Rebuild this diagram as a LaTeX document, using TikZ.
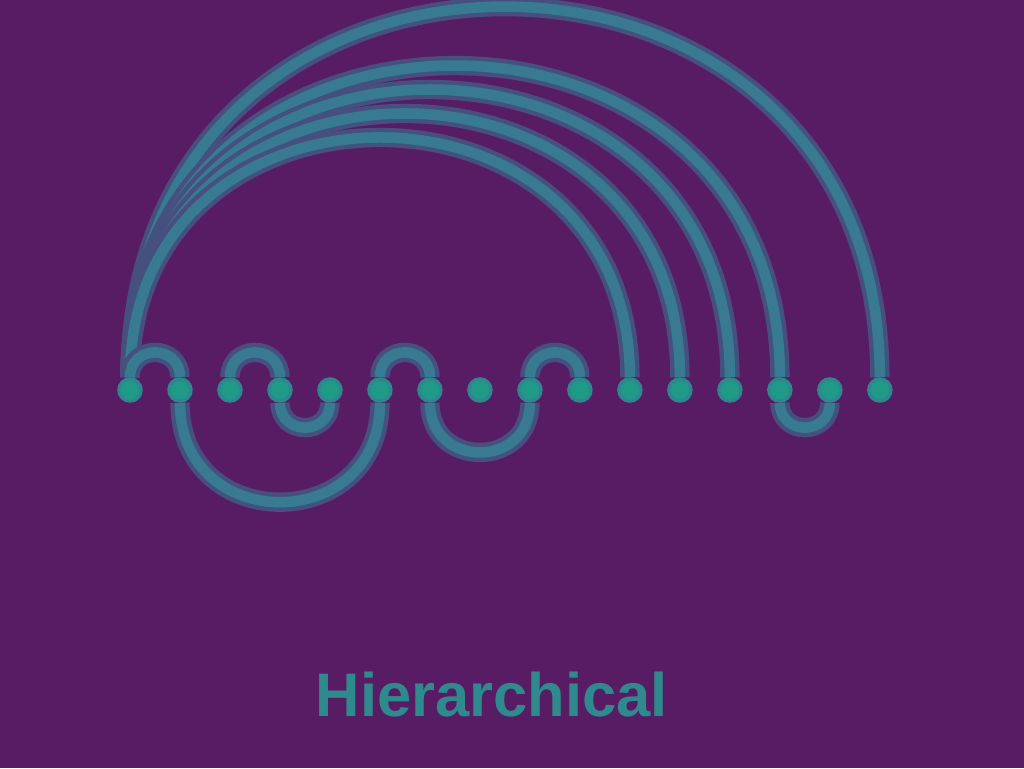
\documentclass[tikz,border=0pt]{standalone}
\usepackage{fontspec}
\setmainfont{Liberation Sans}
\usepackage{tikz}
\usetikzlibrary{positioning}

\definecolor{bgcol}{HTML}{581C65}
\definecolor{edgecol}{HTML}{387A92}
\definecolor{nodecol}{HTML}{1F9A86}
\definecolor{textcol}{HTML}{2E8A8C}

\begin{document}
\begin{tikzpicture}[
    x=0.02cm, y=-0.02cm,
    node distance=1cm, on grid,
    dot/.style={circle, fill=nodecol, draw=edgecol!60!nodecol, line width=2pt, minimum size=0.44cm, inner sep=0pt},
    link/.style={draw=edgecol, line width=6pt, preaction={draw=edgecol!55!bgcol, line width=11pt}},
    over/.style={out=90, in=90, looseness=1.64},
    under/.style={out=-90, in=-90, looseness=1.7}
]
    % Background
    \useasboundingbox (0,0) rectangle (1024,768);
    \fill[bgcol] (0,0) rectangle (1024,768);

    % Nodes
    \node[dot] (n0) at (130,390) {};
    \node[dot, right=of n0] (n1) {};
    \node[dot, right=of n1] (n2) {};
    \node[dot, right=of n2] (n3) {};
    \node[dot, right=of n3] (n4) {};
    \node[dot, right=of n4] (n5) {};
    \node[dot, right=of n5] (n6) {};
    \node[dot, right=of n6] (n7) {};
    \node[dot, right=of n7] (n8) {};
    \node[dot, right=of n8] (n9) {};
    \node[dot, right=of n9] (n10) {};
    \node[dot, right=of n10] (n11) {};
    \node[dot, right=of n11] (n12) {};
    \node[dot, right=of n12] (n13) {};
    \node[dot, right=of n13] (n14) {};
    \node[dot, right=of n14] (n15) {};

    % Arcs above
    \draw[link] (n0) to[over, looseness=1.69] (n15);
    \draw[link] (n0) to[over] (n13);
    \draw[link] (n0) to[over] (n12);
    \draw[link] (n0) to[over] (n11);
    \draw[link] (n0) to[over] (n10);
    \draw[link] (n0) to[over, looseness=1.7] (n1);
    \draw[link] (n2) to[over, looseness=1.7] (n3);
    \draw[link] (n5) to[over, looseness=1.7] (n6);
    \draw[link] (n8) to[over, looseness=1.7] (n9);

    % Arcs below
    \draw[link] (n1) to[under] (n5);
    \draw[link] (n3) to[under] (n4);
    \draw[link] (n6) to[under] (n8);
    \draw[link] (n13) to[under] (n14);

    % Title
    \node[font=\fontsize{35}{40}\selectfont\bfseries, text=textcol] (title) at (492,695) {Hierarchical};
\end{tikzpicture}
\end{document}
